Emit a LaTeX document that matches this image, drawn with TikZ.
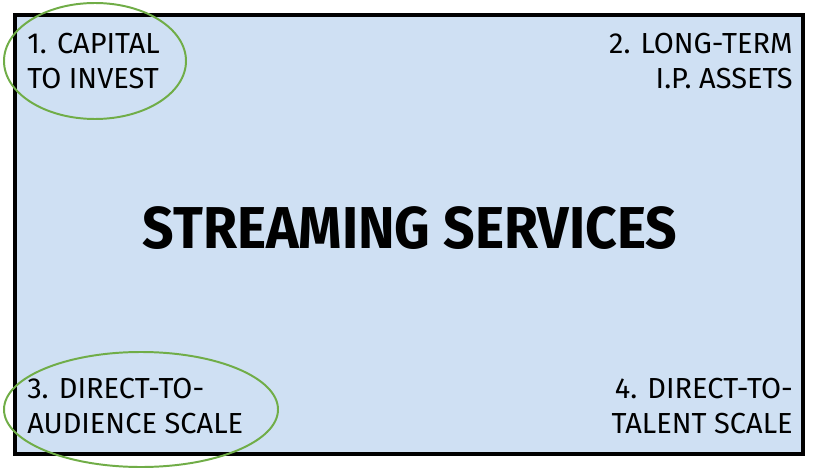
\documentclass[tikz,border=0pt]{standalone}
\usepackage{fontspec}
\setmainfont{Fira Sans}
\definecolor{fondo}{HTML}{CFE0F3}
\definecolor{verde}{HTML}{70AD47}
\begin{document}
\begin{tikzpicture}[
  x=0.025cm, y=-0.025cm,
  esquina/.style={inner sep=0pt, font=\fontsize{20.6}{24.9}\selectfont},
  titulo/.style={inner sep=0pt, xscale=0.935, transform shape,
                 font=\fontsize{42}{46}\selectfont\bfseries},
  marca/.style={draw=verde, line width=1.4pt}
]
\useasboundingbox (0,0) rectangle (820,472);

% --- Marco ---
\draw[fill=fondo, line width=2.5pt] (15,15) rectangle (803,454);

% --- Titulo ---
\node[titulo] (titulo) at (410,228.5) {STREAMING SERVICES};

% --- Esquinas ---
\node[esquina, anchor=north west, align=left] (capital) at (27,33)
      {1. CAPITAL\\TO INVEST};
\node[esquina, anchor=north east, align=right] (activos) at (793,33)
      {2. LONG-TERM\\I.P. ASSETS};
\node[esquina, anchor=north west, align=left] (audiencia) at (27,378)
      {3. DIRECT-TO-\\AUDIENCE SCALE};
\node[esquina, anchor=north east, align=right] (talento) at (793,378)
      {4. DIRECT-TO-\\TALENT SCALE};

% --- Marcas ---
\draw[marca] (95,61) ellipse [x radius=91, y radius=58];
\draw[marca] (141,409.5) ellipse [x radius=137, y radius=57.5];

\end{tikzpicture}
\end{document}
